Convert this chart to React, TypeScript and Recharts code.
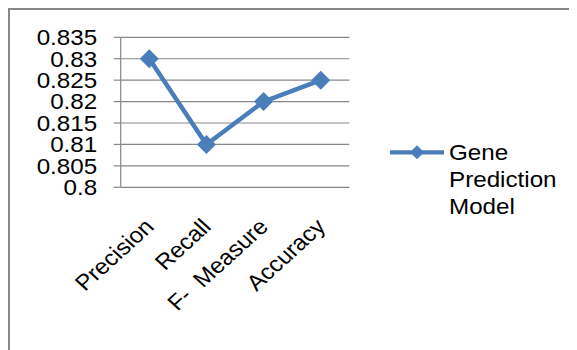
import React from 'react';
import { LineChart, Line, XAxis, YAxis, CartesianGrid, Legend } from 'recharts';

// Evaluation scores of the gene prediction model
const metrics = ['Precision', 'Recall', 'F-  Measure', 'Accuracy'];
const scores = [0.83, 0.81, 0.82, 0.825];
const yTicks = [0.8, 0.805, 0.81, 0.815, 0.82, 0.825, 0.83, 0.835];
const categoryEdges = [0, 1, 2, 3, 4];
const seriesName = 'Gene Prediction Model';

const data = metrics.map((metric, i) => ({ metric, score: scores[i] }));

const FONT = '"Liberation Sans", Arial, Helvetica, sans-serif';
const BLUE = '#4A7EBB';
const GRID = '#878787';
const STRETCH = 1.1;

const diamondPath = (cx: number, cy: number, r: number) =>
  `M${cx},${cy - r} L${cx + r},${cy} L${cx},${cy + r} L${cx - r},${cy} Z`;

const YTick = (props: any) => {
  const { x, y, payload } = props;
  return (
    <g transform={`translate(${x},${y}) scale(${STRETCH},1)`}>
      <text x={0} y={0} dy="0.355em" textAnchor="end" fontSize={22} fill="#000" fontFamily={FONT}>
        {String(payload.value)}
      </text>
    </g>
  );
};

const XTick = (props: any) => {
  const { x, y, payload } = props;
  return (
    <g transform={`translate(${x},${y}) scale(${STRETCH},1) rotate(-45)`}>
      <text
        x={0}
        y={0}
        dy="0.35em"
        textAnchor="end"
        fontSize={22}
        fill="#000"
        fontFamily={FONT}
        style={{ whiteSpace: 'pre' }}
      >
        {payload.value}
      </text>
    </g>
  );
};

const DiamondDot = (props: any) => {
  const { cx, cy, index } = props;
  if (cx == null || cy == null) return null;
  return <path key={`dot-${index}`} d={diamondPath(cx, cy, 9.5)} fill={BLUE} />;
};

const LegendBox = (props: any) => {
  const entry = props.payload && props.payload[0];
  const label: string = (entry && entry.value) || seriesName;
  const words = label.split(' ');
  return (
    <svg width={180} height={100} style={{ display: 'block', overflow: 'visible' }}>
      <line x1={0} y1={22.3} x2={54} y2={22.3} stroke={BLUE} strokeWidth={4.3} />
      <path d={diamondPath(27, 22.3, 7)} fill={BLUE} />
      {words.map((w, i) => (
        <g key={w} transform={`translate(59,${30 + i * 27}) scale(${STRETCH},1)`}>
          <text x={0} y={0} fontSize={22} fill="#000" fontFamily={FONT}>
            {w}
          </text>
        </g>
      ))}
    </svg>
  );
};

export default function App() {
  return (
    <div
      style={{
        width: 567,
        height: 340,
        borderTop: `2px solid ${GRID}`,
        borderLeft: `2px solid ${GRID}`,
        background: '#fff',
      }}
    >
      <LineChart
        width={567}
        height={340}
        data={data}
        margin={{ top: 27.3, right: 227.7, bottom: 42.7, left: 0 }}
      >
        <CartesianGrid xAxisId="cat" vertical={false} stroke={GRID} strokeWidth={1.2} />
        <XAxis
          xAxisId="edge"
          type="number"
          domain={[0, 4]}
          ticks={categoryEdges}
          allowDataOverflow
          height={0}
          tickSize={7}
          tickFormatter={() => ''}
          axisLine={{ stroke: GRID, strokeWidth: 1.2 }}
          tickLine={{ stroke: GRID, strokeWidth: 1.2 }}
        />
        <XAxis
          xAxisId="cat"
          dataKey="metric"
          scale="band"
          height={120}
          axisLine={false}
          tickLine={false}
          tickSize={0}
          tickMargin={35.3}
          interval={0}
          tick={<XTick />}
        />
        <YAxis
          type="number"
          domain={[0.8, 0.835]}
          ticks={yTicks}
          width={110.7}
          tickSize={7}
          tickMargin={16.5}
          interval={0}
          axisLine={{ stroke: GRID, strokeWidth: 1.2 }}
          tickLine={{ stroke: GRID, strokeWidth: 1.2 }}
          tick={<YTick />}
        />
        <Legend
          layout="vertical"
          align="center"
          verticalAlign="middle"
          wrapperStyle={{ left: 380, top: 120, width: 180 }}
          content={<LegendBox />}
        />
        <Line
          xAxisId="cat"
          type="linear"
          dataKey="score"
          name={seriesName}
          stroke={BLUE}
          strokeWidth={4.5}
          strokeLinejoin="round"
          dot={<DiamondDot />}
          activeDot={false}
          isAnimationActive={false}
        />
      </LineChart>
    </div>
  );
}
